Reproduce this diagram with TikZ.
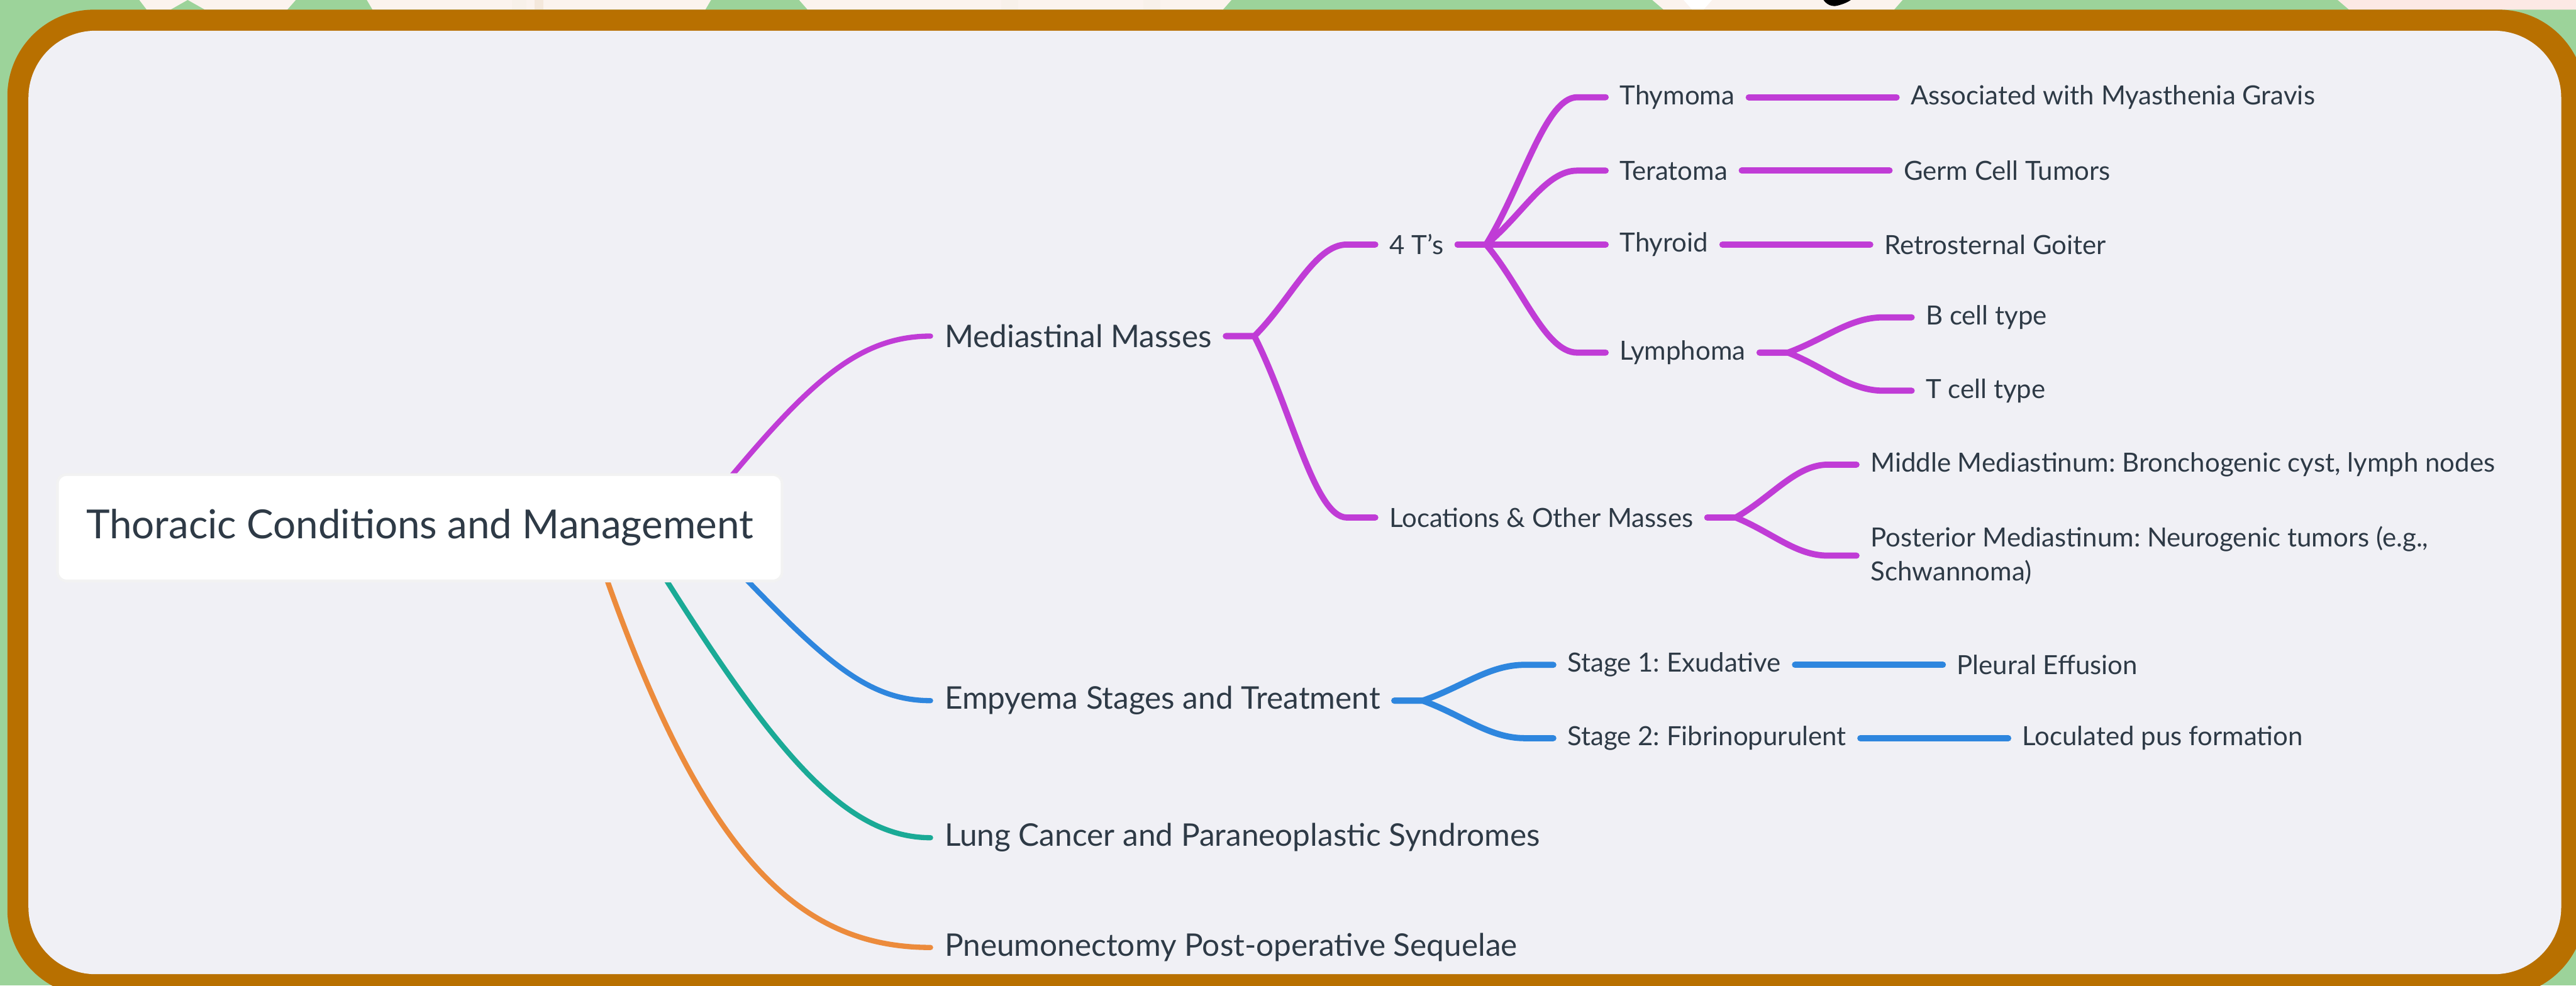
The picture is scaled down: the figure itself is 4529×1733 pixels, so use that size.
\documentclass[tikz,border=0pt]{standalone}
\usepackage{fontspec}
\setmainfont{Lato}
\usetikzlibrary{calc,positioning}
\definecolor{bggreen}{HTML}{9CD39A}
\definecolor{framebrown}{HTML}{B87000}
\definecolor{panel}{HTML}{F0F0F5}
\definecolor{ink}{HTML}{2E3A46}
\definecolor{cpur}{HTML}{C03CD6}
\definecolor{cblue}{HTML}{2E86DE}
\definecolor{cteal}{HTML}{1AAA96}
\definecolor{corange}{HTML}{EC8B3C}
\definecolor{photo}{HTML}{FBF3EE}

% fork connector: parent text -> short run -> curve -> short stub -> child text
\newcommand\forklink[3]{%
  \path (#2.east) ++(50,0) coordinate (f#3) (#3.west) ++(-50,0) coordinate (s#3);
  \draw[#1] (#2.east) -- (f#3) .. controls ($(f#3)!0.4!(s#3)$) and ($(s#3)!0.35!(s#3 -| f#3)$) .. (s#3) -- (#3.west);}

\begin{document}
\frenchspacing
\begin{tikzpicture}[x=0.25pt,y=-0.25pt,
  lbl/.style={anchor=west,inner xsep=6pt,inner ysep=2pt,text=ink,
              font=\fontsize{11.6}{15}\selectfont},
  toplbl/.style={lbl,font=\fontsize{13.7}{16}\selectfont},
  rootbox/.style={fill=white,draw=black!5,line width=1.2pt,rounded corners=4pt,
              minimum width=318.5pt,minimum height=46.75pt,text=ink,
              font=\fontsize{17.6}{20}\selectfont},
  branch/.style={line width=2.7pt,line cap=round},
  rootlink/.style={line width=2.3pt,line cap=round},
  pur/.style={branch,cpur},
  blu/.style={branch,cblue}]

\useasboundingbox (0,0) rectangle (4529,1733);
\fill[bggreen] (0,0) rectangle (4529,1733);

% photo fragments peeking out above the frame
\fill[photo] (245,0) -- (520,0) -- (505,17) -- (258,17) -- cycle;
\fill[photo] (645,0) -- (1250,0) -- (1240,17) -- (655,17) -- cycle;
\fill[photo] (1405,0) -- (2165,0) -- (2150,17) -- (1420,17) -- cycle;
\fill[bggreen] (300,17) -- (330,0) -- (360,17) -- cycle;
\fill[bggreen] (1300,17) -- (1340,0) -- (1380,17) -- cycle;
\fill[photo!70!brown!30] (900,0) rectangle (925,17);
\fill[photo!60!brown!40] (940,0) rectangle (955,17);
\fill[photo!70!brown!30] (1760,0) rectangle (1790,17);
\fill[photo!70!brown!30] (2010,0) rectangle (2040,17);
\fill[photo] (2905,0) -- (3345,0) -- (3330,17) -- (2925,17) -- cycle;
\fill[white] (2960,0) -- (3010,0) -- (2995,17) -- (2975,17) -- cycle;
\fill[black] (3206,0) .. controls (3212,9) and (3222,12) .. (3230,10)
             .. controls (3242,7) and (3250,3) .. (3254,0) -- cycle;
\fill[photo!80!pink] (4110,0) -- (4529,0) -- (4529,17) -- (4130,17) -- cycle;

% frame and panel
\fill[framebrown,rounded corners=38pt] (13,17) rectangle (4545,1752);
\fill[panel,rounded corners=29.5pt] (50,54) rectangle (4503,1713);

% ---------- nodes ----------
\node[toplbl] (ms)   at (1636,591)  {Mediastinal Masses};
\node[toplbl] (emp)  at (1636,1232) {Empyema Stages and Treatment};
\node[toplbl] (lung) at (1636,1473) {Lung Cancer and Paraneoplastic Syndromes};
\node[toplbl] (pneu) at (1636,1666) {Pneumonectomy Post-operative Sequelae};

\node[lbl] (four) at (2418,430) {4 T's};
\node[lbl] (loc)  at (2418,910) {Locations \& Other Masses};

\node[lbl] (thy) at (2823,171) {Thymoma};
\node[lbl] (ter) at (2823,300) {Teratoma};
\node[lbl] (thd) at (2823,430) {Thyroid};
\node[lbl] (lym) at (2823,620) {Lymphoma};

\node[lbl,right=65pt of thy] (amg) {Associated with Myasthenia Gravis};
\node[lbl,right=65pt of ter] (gct) {Germ Cell Tumors};
\node[lbl,right=65pt of thd] (rg)  {Retrosternal Goiter};

\node[lbl] (bc) at (3361,558) {B cell type};
\node[lbl] (tc) at (3361,687) {T cell type};

\node[lbl] (mid)  at (3264,817) {Middle Mediastinum: Bronchogenic cyst, lymph nodes};
\node[lbl,align=left] (post) at (3264,977)
  {Posterior Mediastinum: Neurogenic tumors (e.g.,\\Schwannoma)};

\node[lbl] (s1) at (2731,1169) {Stage 1: Exudative};
\node[lbl] (s2) at (2731,1298) {Stage 2: Fibrinopurulent};
\node[lbl,right=65pt of s1] (pe)   {Pleural Effusion};
\node[lbl,right=65pt of s2] (locu) {Loculated pus formation};

% ---------- connectors from the central topic ----------
\coordinate (rp) at (1250,880);
\coordinate (rb) at (1270,975);
\coordinate (rt) at (1140,970);
\coordinate (ro) at (1050,970);
\draw[rootlink,cpur]    (rp) .. controls (1410,687)  and (1500,591)  .. (ms.west);
\draw[rootlink,cblue]   (rb) .. controls (1442,1155) and (1520,1232) .. (emp.west);
\draw[rootlink,cteal]   (rt) .. controls (1352,1310) and (1480,1473) .. (lung.west);
\draw[rootlink,corange] (ro) .. controls (1230,1500) and (1400,1666) .. (pneu.west);

\node[rootbox] (root) at (738,928) {Thoracic Conditions and Management};

% ---------- mediastinal branch ----------
\forklink{pur}{ms}{four}
\forklink{pur}{ms}{loc}
\forklink{pur}{four}{thy}
\forklink{pur}{four}{ter}
\forklink{pur}{four}{thd}
\forklink{pur}{four}{lym}
\forklink{pur}{lym}{bc}
\forklink{pur}{lym}{tc}
\forklink{pur}{loc}{mid}
\forklink{pur}{loc}{post}
\draw[pur] (thy.east) -- (amg.west);
\draw[pur] (ter.east) -- (gct.west);
\draw[pur] (thd.east) -- (rg.west);

% ---------- empyema branch ----------
\forklink{blu}{emp}{s1}
\forklink{blu}{emp}{s2}
\draw[blu] (s1.east) -- (pe.west);
\draw[blu] (s2.east) -- (locu.west);

\end{tikzpicture}
\end{document}
